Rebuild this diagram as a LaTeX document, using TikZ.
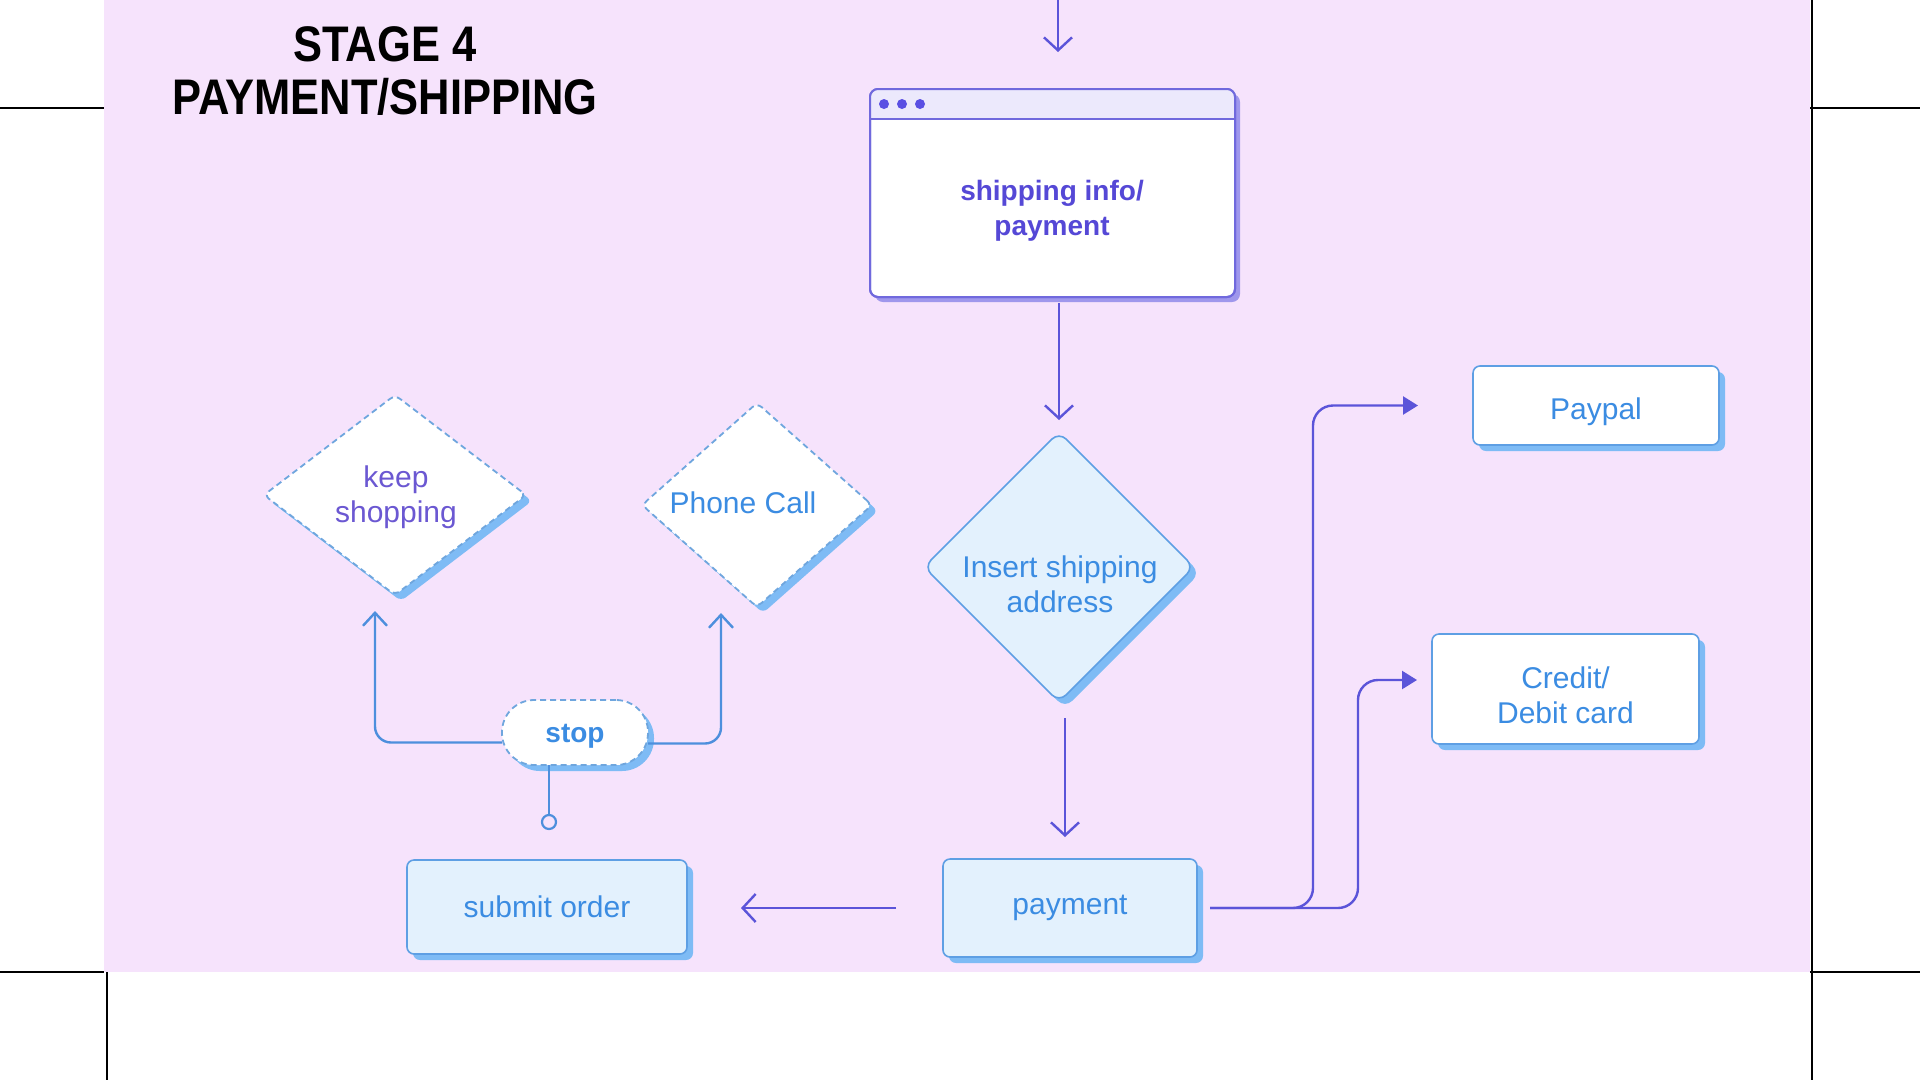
\documentclass[tikz,border=0pt]{standalone}
\usepackage{fontspec}
\setmainfont{Liberation Sans}
\newfontfamily\titlefont[FakeStretch=0.87]{Liberation Sans}
\usetikzlibrary{arrows.meta,shapes.geometric,shadows,calc}

\definecolor{bgpink}{HTML}{F6E3FC}
\definecolor{linepurple}{HTML}{5B54D9}
\definecolor{winborder}{HTML}{7069DD}
\definecolor{winshadow}{HTML}{9F97EC}
\definecolor{winbar}{HTML}{ECE9FC}
\definecolor{wintext}{HTML}{5548D6}
\definecolor{dotcol}{HTML}{5A4FE3}
\definecolor{nodeblue}{HTML}{5E9FE4}
\definecolor{dashblue}{HTML}{6FA6DE}
\definecolor{shadowblue}{HTML}{7EBBF5}
\definecolor{fillblue}{HTML}{E3F1FD}
\definecolor{textblue}{HTML}{3B8CE2}
\definecolor{lineblue}{HTML}{4D8FDD}
\definecolor{keeptext}{HTML}{6B58D2}

\tikzset{
  every node/.style={outer sep=0pt},
  bshadow/.style={drop shadow={shadow xshift=6pt,shadow yshift=-6pt,fill=shadowblue,opacity=1}},
  bluebox/.style={draw=nodeblue, line width=1.6pt, fill=fillblue, rounded corners=7pt,
    text=textblue, font=\fontsize{30}{35}\selectfont, align=center, inner sep=0pt, bshadow},
  whitebox/.style={bluebox, fill=white},
  winbox/.style={draw=winborder, line width=2pt, fill=white, rounded corners=8pt, inner sep=0pt,
    drop shadow={shadow xshift=5pt,shadow yshift=-5pt,fill=winshadow,opacity=1}},
  wintxt/.style={text=wintext, font=\bfseries\fontsize{28}{35}\selectfont, align=center},
  bluetxt/.style={text=textblue, font=\fontsize{30}{35}\selectfont, align=center},
  stoptxt/.style={text=textblue, font=\bfseries\fontsize{28}{34}\selectfont},
  insdiamond/.style={shape=diamond, aspect=1, draw=nodeblue, line width=1.6pt, fill=fillblue,
    rounded corners=10pt, inner sep=0pt, bshadow},
  dashdiamond/.style={shape=diamond, aspect=1, draw=dashblue, line width=1.8pt,
    dash pattern=on 6pt off 4pt, fill=white, rounded corners=6pt, inner sep=0pt, bshadow},
  stopbox/.style={draw=dashblue, line width=1.8pt, dash pattern=on 6pt off 4pt, fill=white,
    rounded corners=32pt, inner sep=0pt, bshadow},
  pconn/.style={draw=linepurple, line width=2.4pt, -{Straight Barb[length=13pt,width=28pt]}},
  pfill/.style={draw=linepurple, line width=2.4pt, rounded corners=20pt, -{Triangle[length=15pt,width=18pt]}},
  bconn/.style={draw=lineblue, line width=2.4pt, rounded corners=16pt, -{Straight Barb[length=13pt,width=24pt]}},
  crop/.style={draw=black, line width=1.6pt},
}

\begin{document}
\begin{tikzpicture}[x=1pt,y=-1pt]
\useasboundingbox (0,0) rectangle (1920,1080);
\fill[white] (0,0) rectangle (1920,1080);
\fill[bgpink] (104,0) rectangle (1810,972);

% crop marks
\draw[crop] (0,108) -- (104,108);
\draw[crop] (0,972) -- (104,972);
\draw[crop] (107,972) -- (107,1080);
\draw[crop] (1812,0) -- (1812,1080);
\draw[crop] (1810,108) -- (1920,108);
\draw[crop] (1810,972) -- (1920,972);

% title
\node[font=\titlefont\bfseries\fontsize{50}{53}\selectfont, align=center, inner sep=0pt] (title) at (385,71)
  {STAGE 4\\PAYMENT/SHIPPING};

% window node
\node[winbox, minimum width=365pt, minimum height=208pt] (win) at (1052.5,193) {};
\begin{scope}
  \clip[rounded corners=8pt] (win.south west) rectangle (win.north east);
  \fill[winbar] (win.north west) rectangle ([yshift=-30pt]win.north east);
\end{scope}
\draw[winborder, line width=2pt] ([yshift=-30pt]win.north west) -- ([yshift=-30pt]win.north east);
\draw[winborder, line width=2pt, rounded corners=8pt] (win.south west) rectangle (win.north east);
\foreach \i/\dx in {1/14,2/32,3/50}
  \fill[dotcol] ([xshift=\dx pt,yshift=-15pt]win.north west) circle (5pt);
\node[wintxt] (wintext) at (1052,211) {shipping info/\\payment};

% decision diamond
\node[insdiamond, minimum width=270pt, minimum height=270pt] (ins) at (1059,567) {};
\node[bluetxt] (instext) at (1060,584) {Insert shipping\\address};

% boxes
\node[bluebox, minimum width=254pt, minimum height=98pt] (pay) at (1070,908) {payment};
\node[bluebox, minimum width=280pt, minimum height=94pt] (sub) at (547,907) {submit order};
\node[whitebox, minimum width=246pt, minimum height=79pt] (paypal) at (1596,405.5) {};
\node[bluetxt] (paypaltext) at (1596,412) {Paypal};
\node[whitebox, minimum width=267pt, minimum height=110pt] (credit) at (1565.5,689) {};
\node[bluetxt] (credittext) at (1565.5,695) {Credit/\\Debit card};

% dashed nodes
\node[stopbox, minimum width=146pt, minimum height=65pt] (stop) at (575,732.5) {};
\node[stoptxt] (stoptext) at (575,736) {stop};
\node[dashdiamond, minimum width=262pt, minimum height=200pt] (keep) at (395,495) {};
\node[bluetxt, text=keeptext] (keeptext) at (396,497) {keep\\shopping};
\node[dashdiamond, minimum width=230pt, minimum height=204pt] (phone) at (757,505) {};
\node[bluetxt] (phonetext) at (743,503) {Phone Call};

% connectors
\coordinate (topin) at (1058,0);
\draw[pconn, shorten >=37pt] (topin) -- (topin |- win.north);
\draw[pconn, shorten <=6pt, shorten >=12pt] (ins.north |- win.south) -- (ins.north);
\draw[pconn, shorten <=16pt, shorten >=22pt] ([xshift=-5pt]pay.north |- ins.south) -- ([xshift=-5pt]pay.north);
\draw[pconn, shorten <=47pt, shorten >=54pt] (pay.west) -- (pay.west -| sub.east);
\draw[pfill] ([xshift=13pt]pay.east) -| ([xshift=-160pt]paypal.west) -- ([xshift=-55pt]paypal.west);
\draw[pfill] ([xshift=13pt]pay.east) -| ([xshift=-74pt,yshift=9pt]credit.west) -- ([xshift=-15pt,yshift=9pt]credit.west);

\draw[bconn] ([yshift=-10pt]stop.west) -| ([xshift=-20pt,yshift=-16pt]keep.south);
\draw[bconn] ([yshift=-11pt]stop.east) -| ([xshift=-36pt,yshift=-6pt]phone.south);
\coordinate (stopend) at (549,822);
\draw[lineblue, line width=2.4pt] ([xshift=-26pt]stop.south) -- ([yshift=7pt]stopend);
\draw[lineblue, line width=2.2pt] (stopend) circle (7pt);
\end{tikzpicture}
\end{document}
